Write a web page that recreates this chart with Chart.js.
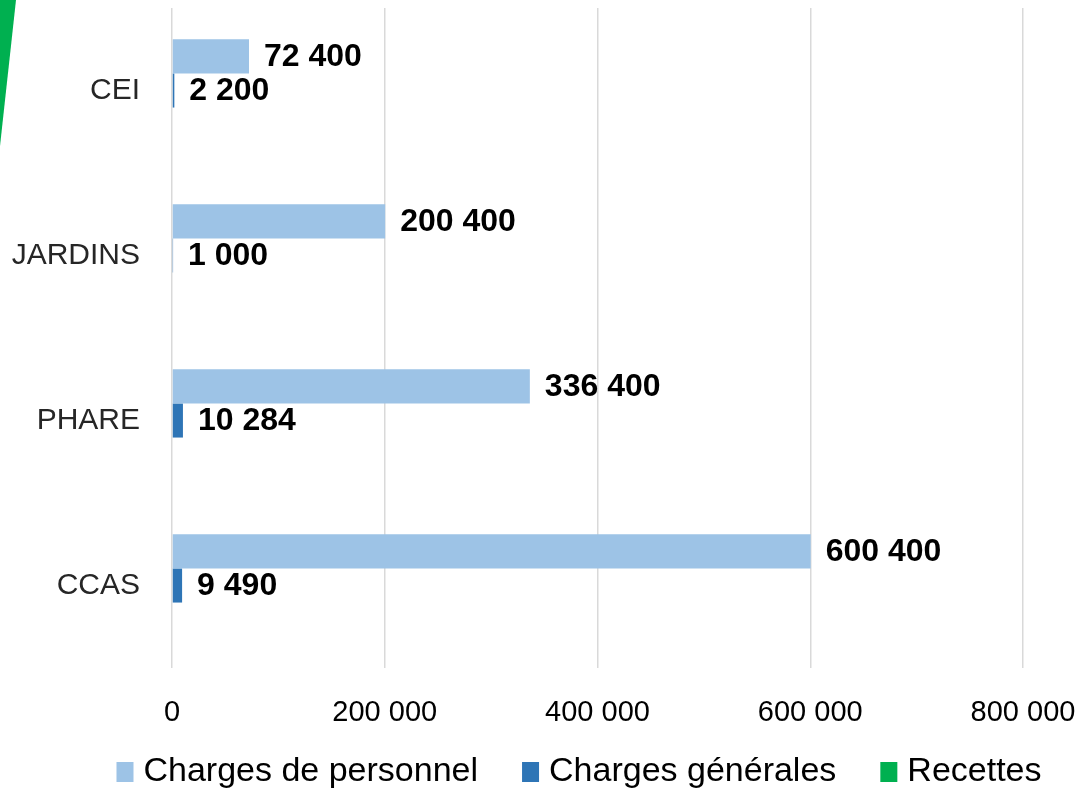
<!DOCTYPE html>
<html>
<head>
<meta charset="utf-8">
<script src="https://cdn.jsdelivr.net/npm/chart.js@4/dist/chart.umd.min.js"></script>
<style>
  html, body { margin: 0; padding: 0; background: #ffffff; }
  #wrap { position: relative; width: 1084px; height: 790px; }
  canvas { display: block; }
</style>
</head>
<body>
<div id="wrap"><canvas id="c" width="1084" height="790"></canvas></div>
<script>
const categories = ["CEI", "JARDINS", "PHARE", "CCAS"];
const chargesPersonnel = [72400, 200400, 336400, 600400];
const chargesGenerales = [2200, 1000, 10284, 9490];
const recettes = [null, null, null, null];
const seriesNames = ["Charges de personnel", "Charges générales", "Recettes"];
const seriesColors = ["#9DC3E6", "#2E75B6", "#00B050"];
const xMax = 800000;
const xStep = 200000;

function fmt(v) {
  return String(Math.round(v)).replace(/\B(?=(\d{3})+(?!\d))/g, " ");
}

const valueLabels = {
  id: "valueLabels",
  afterDatasetsDraw(chart) {
    const ctx = chart.ctx;
    ctx.save();
    ctx.font = "bold 32px 'Liberation Sans', Arial, sans-serif";
    ctx.fillStyle = "#000000";
    ctx.textAlign = "left";
    ctx.textBaseline = "middle";
    chart.data.datasets.forEach((ds, i) => {
      const meta = chart.getDatasetMeta(i);
      meta.data.forEach((el, j) => {
        const v = ds.data[j];
        if (v === null || v === undefined) return;
        ctx.fillText(fmt(v), el.x + 15, el.y + 1);
      });
    });
    ctx.restore();
  }
};

const decoration = {
  id: "decoration",
  beforeDraw(chart) {
    const ctx = chart.ctx;
    ctx.save();
    ctx.fillStyle = "#00B050";
    ctx.beginPath();
    ctx.moveTo(0, 0);
    ctx.lineTo(16, 0);
    ctx.lineTo(0, 146);
    ctx.closePath();
    ctx.fill();
    ctx.restore();
  }
};

// Bottom legend drawn from the datasets (compact layout like the original)
const bottomLegend = {
  id: "bottomLegend",
  afterDraw(chart) {
    const ctx = chart.ctx;
    const boxW = 17, boxH = 20, gapText = 10, gapItem = 44;
    const centerX = 579, centerY = 772;
    ctx.save();
    ctx.font = "34px 'Liberation Sans', Arial, sans-serif";
    ctx.textBaseline = "middle";
    ctx.textAlign = "left";
    const items = chart.data.datasets.map(ds => ({
      label: ds.label, color: ds.backgroundColor, w: ctx.measureText(ds.label).width
    }));
    let total = 0;
    items.forEach((it, i) => {
      total += boxW + gapText + it.w + (i < items.length - 1 ? gapItem : 0);
    });
    let x = centerX - total / 2;
    items.forEach(it => {
      ctx.fillStyle = it.color;
      ctx.fillRect(x, centerY - boxH / 2, boxW, boxH);
      x += boxW + gapText;
      ctx.fillStyle = "#000000";
      ctx.fillText(it.label, x, centerY);
      x += it.w + gapItem;
    });
    ctx.restore();
  }
};

new Chart(document.getElementById("c"), {
  type: "bar",
  data: {
    labels: categories,
    datasets: [
      { label: seriesNames[0], data: chargesPersonnel, backgroundColor: seriesColors[0] },
      { label: seriesNames[1], data: chargesGenerales, backgroundColor: seriesColors[1] },
      { label: seriesNames[2], data: recettes, backgroundColor: seriesColors[2] }
    ]
  },
  options: {
    indexAxis: "y",
    responsive: false,
    animation: false,
    devicePixelRatio: 1,
    layout: { padding: { top: 8, right: 0, left: 0, bottom: 40 } },
    datasets: { bar: { categoryPercentage: 0.62, barPercentage: 1.0 } },
    scales: {
      x: {
        min: 0,
        max: xMax,
        border: { display: false },
        grid: { color: "#d9d9d9", lineWidth: 1.5, drawTicks: false },
        ticks: {
          stepSize: xStep,
          padding: 28,
          color: "#000000",
          font: { family: "'Liberation Sans', Arial, sans-serif", size: 29 },
          callback: (v) => fmt(v)
        },
        afterFit(scale) {
          scale.height = 82;
          scale.paddingRight = 61;
          scale.paddingLeft = 0;
        }
      },
      y: {
        border: { display: false },
        grid: { display: false, drawTicks: false },
        ticks: {
          padding: 32,
          color: "#262626",
          font: { family: "'Liberation Sans', Arial, sans-serif", size: 30 }
        },
        afterFit(scale) {
          scale.width = 172;
          scale.paddingTop = 0;
          scale.paddingBottom = 0;
        }
      }
    },
    plugins: {
      legend: { display: false },
      tooltip: { enabled: false }
    }
  },
  plugins: [valueLabels, decoration, bottomLegend]
});
</script>
</body>
</html>
